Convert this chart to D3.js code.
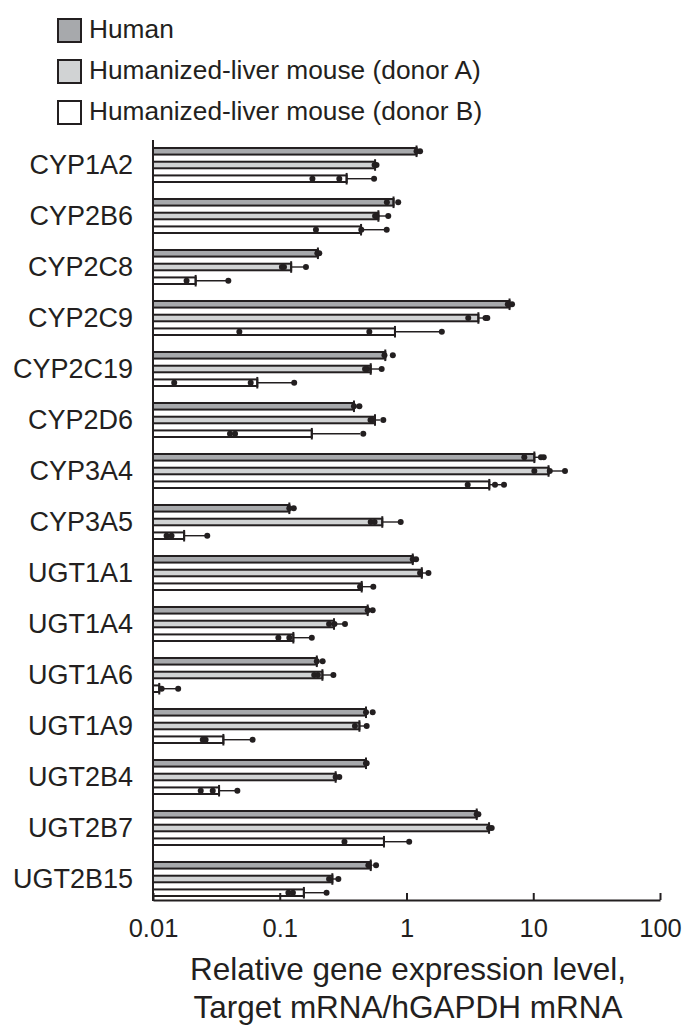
<!DOCTYPE html>
<html>
<head>
<meta charset="utf-8">
<script src="https://cdn.jsdelivr.net/npm/d3@7"></script>
<style>
  body { margin: 0; background: #fff; }
  svg text { font-family: "Liberation Sans", Arial, sans-serif; fill: #231f20; }
</style>
</head>
<body>
<div id="chart"></div>
<script>
// data
const genes = ['CYP1A2', 'CYP2B6', 'CYP2C8', 'CYP2C9', 'CYP2C19', 'CYP2D6', 'CYP3A4', 'CYP3A5',
  'UGT1A1', 'UGT1A4', 'UGT1A6', 'UGT1A9', 'UGT2B4', 'UGT2B7', 'UGT2B15'];
const seriesNames = ['Human', 'Humanized-liver mouse (donor A)', 'Humanized-liver mouse (donor B)'];

const humanMean = [1.2, 0.79, 0.20, 6.5, 0.68, 0.385, 10.2, 0.119, 1.12, 0.494, 0.196, 0.479, 0.479, 3.58, 0.522];
const humanErr = [1.25, 0.80, 0.205, 6.7, 0.70, 0.40, 11.0, 0.125, 1.16, 0.51, 0.205, 0.50, 0.48, 3.65, 0.54];
const humanDots = [[1.2, 1.28], [0.70, 0.86], [0.198, 0.205], [6.3, 6.8], [0.67, 0.78], [0.385, 0.425],
  [8.5, 11.5, 12.1], [0.119, 0.129], [1.12, 1.19], [0.494, 0.541], [0.196, 0.218], [0.479, 0.541],
  [0.479, 0.485], [3.58, 3.69], [0.50, 0.575]];

const donorAMean = [0.565, 0.60, 0.123, 3.69, 0.522, 0.564, 13.2, 0.644, 1.32, 0.268, 0.217, 0.425, 0.276, 4.48, 0.260];
const donorAErr = [0.58, 0.72, 0.161, 4.3, 0.637, 0.62, 17.8, 0.90, 1.45, 0.327, 0.265, 0.485, 0.29, 4.6, 0.29];
const donorADots = [[0.56, 0.58], [0.565, 0.58, 0.718], [0.104, 0.108, 0.161], [3.07, 4.2, 4.34],
  [0.471, 0.49, 0.637], [0.52, 0.54, 0.656], [10.2, 13.5, 17.8], [0.522, 0.56, 0.90], [1.28, 1.49],
  [0.245, 0.27, 0.327], [0.187, 0.20, 0.265], [0.392, 0.485], [0.276, 0.295], [4.48, 4.7], [0.245, 0.29]];

const donorBMean = [0.337, 0.438, 0.0217, 0.811, 0.0665, 0.179, 4.50, 0.0176, 0.443, 0.128, 0.0112, 0.0359, 0.0332, 0.664, 0.155];
const donorBErr = [0.555, 0.698, 0.0393, 1.90, 0.130, 0.43, 5.88, 0.0268, 0.547, 0.179, 0.0158, 0.0611, 0.0463, 1.05, 0.234];
const donorBDots = [[0.181, 0.295, 0.555], [0.193, 0.44, 0.698], [0.0184, 0.0393], [0.048, 0.509, 1.90],
  [0.0147, 0.059, 0.130], [0.0405, 0.0444, 0.456], [3.04, 4.99, 5.88], [0.0128, 0.014, 0.0268],
  [0.43, 0.547], [0.0975, 0.119, 0.179], [0.0117, 0.0158], [0.0247, 0.026, 0.0611],
  [0.0238, 0.0296, 0.0463], [0.324, 1.05], [0.117, 0.127, 0.234]];

const xTicks = [0.01, 0.1, 1, 10, 100];
const xTitle = ['Relative gene expression level,', 'Target mRNA/hGAPDH mRNA'];

const fills = ['#a7a9ac', '#d1d3d4', '#ffffff'];
const ink = '#231f20';

//** build rows from the arrays
const means = [humanMean, donorAMean, donorBMean];
const errs = [humanErr, donorAErr, donorBErr];
const dots = [humanDots, donorADots, donorBDots];
const rows = [];
genes.forEach((g, i) => {
  seriesNames.forEach((s, j) => {
    rows.push({ gene: g, series: s, idx: j, mean: means[j][i], err: errs[j][i], dots: dots[j][i] });
  });
});

const W = 685, H = 1026;
const svg = d3.select('#chart').append('svg').attr('width', W).attr('height', H);

//** scales
const x = d3.scaleLog().domain([0.01, 100]).range([153, 660]);
const y0 = d3.scaleBand().domain(genes).range([139.5, 904.5]).paddingInner(0.294).paddingOuter(0.147);
const y1 = d3.scaleBand().domain(seriesNames).range([0, y0.bandwidth()]).paddingInner(0.375);
const bw = y1.bandwidth();

//** bars
const gBars = svg.append('g');
const item = gBars.selectAll('g.item').data(rows).enter().append('g')
  .attr('transform', d => 'translate(0,' + (y0(d.gene) + y1(d.series)) + ')');

item.append('rect')
  .attr('x', x(0.01))
  .attr('y', 1)
  .attr('width', d => x(d.mean) - x(0.01))
  .attr('height', bw - 2)
  .attr('fill', d => fills[d.idx])
  .attr('stroke', ink)
  .attr('stroke-width', 2);

//** error whisker + cap at bar end
item.append('line')
  .attr('x1', d => x(d.mean)).attr('x2', d => x(d.err))
  .attr('y1', bw / 2).attr('y2', bw / 2)
  .attr('stroke', ink).attr('stroke-width', 1.4);
item.append('line')
  .attr('x1', d => x(d.mean)).attr('x2', d => x(d.mean))
  .attr('y1', -1.5).attr('y2', bw + 1.5)
  .attr('stroke', ink).attr('stroke-width', 2);

//** individual points
item.selectAll('circle').data(d => d.dots).enter().append('circle')
  .attr('cx', v => x(v))
  .attr('cy', bw / 2)
  .attr('r', 3)
  .attr('fill', ink);

//** y axis (line + category labels)
svg.append('line')
  .attr('x1', 153).attr('x2', 153)
  .attr('y1', 140).attr('y2', 901)
  .attr('stroke', ink).attr('stroke-width', 2);

svg.append('g').selectAll('text').data(genes).enter().append('text')
  .attr('x', 133)
  .attr('y', d => y0(d) + y0.bandwidth() / 2 + 9)
  .attr('text-anchor', 'end')
  .attr('font-size', 27)
  .text(d => d);

//** x axis, ticks point up into the plot
const xAxis = d3.axisBottom(x)
  .tickValues(xTicks)
  .tickFormat(d => String(d))
  .tickSizeInner(-7)
  .tickSizeOuter(0)
  .tickPadding(19);
const gx = svg.append('g')
  .attr('transform', 'translate(0,900)')
  .call(xAxis);
gx.select('.domain').attr('stroke', ink).attr('stroke-width', 2);
gx.selectAll('.tick line').attr('stroke', ink).attr('stroke-width', 2);
gx.selectAll('.tick text')
  .attr('font-size', 25.5)
  .attr('font-family', '"Liberation Sans", Arial, sans-serif')
  .attr('fill', ink);

svg.append('g').selectAll('text').data(xTitle).enter().append('text')
  .attr('x', 408)
  .attr('y', (d, i) => 980 + i * 38)
  .attr('text-anchor', 'middle')
  .attr('font-size', 31.5)
  .text(d => d);

//** legend
const legend = svg.append('g').selectAll('g').data(seriesNames).enter().append('g')
  .attr('transform', (d, i) => 'translate(57,' + (18 + i * 41) + ')');
legend.append('rect')
  .attr('x', 1).attr('y', 1)
  .attr('width', 23).attr('height', 23)
  .attr('fill', (d, i) => fills[i])
  .attr('stroke', ink).attr('stroke-width', 2);
legend.append('text')
  .attr('x', 32)
  .attr('y', 20)
  .attr('font-size', 26.3)
  .text(d => d);
</script>
</body>
</html>
